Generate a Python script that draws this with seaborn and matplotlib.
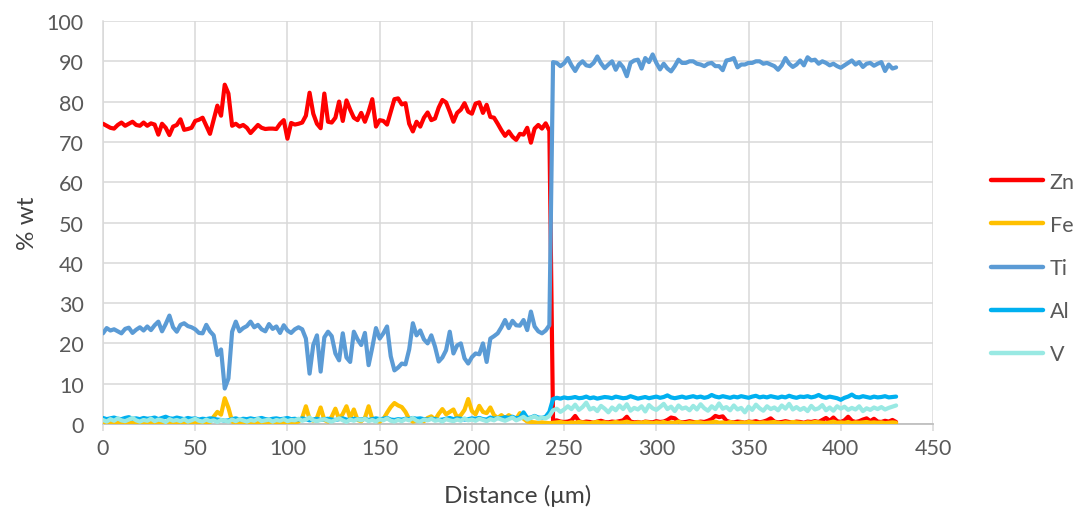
import numpy as np
import pandas as pd
import matplotlib
matplotlib.use("Agg")
import matplotlib.pyplot as plt
import seaborn as sns

# EDS line scan across the Zn / Ti-6Al-4V interface, sampled every 2 µm
distance = np.arange(0, 431, 2)

zn = [
    74.5, 74.0, 73.5, 73.3, 74.2, 74.8, 74.0, 74.5, 75.0, 74.2,
    74.0, 74.8, 74.0, 74.6, 74.3, 71.8, 74.5, 73.5, 71.7, 73.8,
    74.2, 75.6, 73.0, 73.2, 73.5, 75.2, 75.5, 76.0, 74.0, 72.0,
    75.5, 79.0, 76.5, 84.2, 82.0, 74.0, 74.5, 73.8, 74.2, 73.5,
    72.2, 73.2, 74.2, 73.5, 73.2, 73.3, 73.3, 73.2, 74.5, 75.4,
    70.8, 74.7, 74.3, 74.5, 74.8, 76.5, 82.2, 77.0, 74.5, 73.4,
    82.0, 75.0, 74.8, 76.0, 80.0, 75.2, 80.3, 78.0, 76.0, 75.4,
    77.2, 75.0, 77.5, 80.6, 73.8, 75.4, 75.2, 74.3, 77.5, 80.6,
    80.8, 79.3, 79.6, 74.5, 72.6, 75.0, 73.8, 76.0, 77.3, 75.4,
    75.8, 78.5, 80.4, 79.8, 77.5, 75.0, 77.2, 78.0, 79.6, 77.5,
    77.0, 79.5, 79.8, 77.2, 79.2, 76.2, 76.0, 74.5, 72.9, 71.5,
    72.6, 71.3, 70.5, 72.0, 71.8, 73.5, 69.8, 73.3, 74.2, 73.3,
    74.6, 72.8, 0.8, 0.9, 0.6, 0.5, 0.6, 0.9, 2.0, 0.7,
    0.4, 0.6, 0.5, 0.3, 0.6, 0.8, 0.5, 0.4, 0.6, 0.5,
    0.7, 0.9, 1.8, 0.6, 0.4, 0.5, 0.3, 0.6, 0.5, 0.4,
    0.7, 0.5, 0.6, 1.0, 1.6, 1.4, 0.6, 0.4, 0.5, 0.7,
    0.5, 0.4, 0.6, 0.5, 0.8, 1.2, 2.0, 1.7, 1.9, 0.8,
    0.5, 0.4, 0.6, 0.5, 0.3, 0.6, 0.5, 0.7, 0.4, 0.6,
    0.9, 1.4, 0.6, 0.4, 0.5, 0.7, 0.5, 0.4, 0.6, 0.5,
    0.3, 0.6, 0.5, 0.7, 0.5, 1.0, 1.5, 0.8, 1.6, 0.7,
    0.5, 0.9, 1.8, 0.8, 0.5, 0.7, 1.1, 1.4, 0.7, 1.3,
    0.6, 0.5, 0.8, 0.6, 1.0, 0.5,
]

fe = [
    0.3, 0.2, 0.4, 0.3, 0.5, 0.2, 0.3, 0.4, 0.2, 0.3,
    0.4, 0.3, 0.2, 0.5, 0.3, 0.2, 0.4, 0.3, 0.5, 0.2,
    0.3, 0.4, 0.2, 0.3, 0.5, 0.3, 0.2, 0.4, 0.3, 0.5,
    1.8, 3.0, 2.3, 6.4, 4.0, 0.6, 0.3, 0.4, 0.2, 0.3,
    0.4, 0.2, 0.3, 0.5, 0.3, 0.2, 0.4, 0.3, 0.5, 0.4,
    0.3, 0.5, 0.4, 0.6, 1.5, 4.4, 1.2, 0.8, 1.5, 4.1,
    1.0, 0.6, 1.8, 3.8, 1.2, 2.5, 4.4, 1.5, 3.6, 1.0,
    0.7, 1.5, 4.4, 1.2, 0.8, 0.6, 1.2, 2.8, 4.2, 5.2,
    4.6, 4.2, 3.0, 1.2, 0.6, 0.8, 1.0, 0.7, 1.5, 1.9,
    1.0, 2.5, 3.7, 2.4, 3.0, 3.6, 1.6, 2.2, 3.5, 6.2,
    3.2, 2.4, 4.5, 3.0, 2.7, 4.1, 2.2, 1.5, 2.2, 1.4,
    2.2, 1.6, 1.2, 2.7, 1.3, 0.6, 0.5, 0.4, 0.3, 0.4,
    0.3, 0.2, 0.3, 0.4, 0.5, 0.3, 0.2, 0.4, 0.3, 0.5,
    0.4, 0.3, 0.2, 0.4, 0.5, 0.3, 0.4, 0.2, 0.3, 0.5,
    0.3, 0.4, 0.6, 0.3, 0.2, 0.4, 0.3, 0.5, 0.4, 0.2,
    0.4, 0.3, 0.5, 0.2, 0.4, 0.3, 0.6, 0.3, 0.2, 0.4,
    0.3, 0.5, 0.4, 0.2, 0.3, 0.4, 0.6, 0.3, 0.4, 0.2,
    0.5, 0.3, 0.2, 0.4, 0.3, 0.5, 0.4, 0.2, 0.3, 0.4,
    0.3, 0.4, 0.5, 0.3, 0.2, 0.4, 0.3, 0.5, 0.4, 0.3,
    0.2, 0.4, 0.3, 0.5, 0.4, 0.3, 0.2, 0.4, 0.6, 0.3,
    0.4, 0.3, 0.5, 0.2, 0.4, 0.3, 0.4, 0.5, 0.3, 0.4,
    0.3, 0.4, 0.2, 0.3, 0.4, 0.3,
]

ti = [
    22.5, 23.8, 23.2, 23.5, 23.0, 22.5, 23.6, 23.9, 22.6, 23.4,
    24.0, 23.2, 24.2, 23.3, 24.5, 25.4, 23.0, 24.8, 26.9, 24.0,
    22.9, 24.6, 25.0, 24.3, 24.0, 23.5, 22.6, 22.5, 24.6, 23.0,
    22.0, 17.1, 18.5, 8.8, 11.3, 22.9, 25.4, 23.0, 23.8, 24.3,
    25.4, 24.0, 24.6, 23.5, 23.0, 24.8, 23.6, 24.2, 22.6, 24.5,
    23.2, 22.6, 23.5, 24.0, 23.5, 21.2, 12.5, 19.6, 22.0, 13.0,
    21.5, 22.9, 21.8, 17.5, 15.8, 22.5, 16.5, 15.4, 22.9, 21.0,
    19.6, 22.6, 14.6, 19.0, 23.8, 21.2, 22.5, 24.2, 16.8, 13.3,
    14.0, 15.0, 14.8, 18.5, 25.0, 22.0, 23.2, 21.0, 20.0, 22.0,
    19.2, 15.5, 16.5, 18.3, 22.9, 17.5, 19.5, 20.0, 16.3, 15.0,
    16.6, 17.5, 17.3, 20.0, 15.4, 21.2, 21.8, 22.5, 24.0, 25.8,
    23.8, 25.6, 24.5, 24.4, 25.8, 23.3, 27.9, 24.2, 23.0, 22.5,
    23.2, 24.5, 89.8, 89.6, 88.8, 89.5, 90.8, 89.0, 87.6, 89.2,
    90.0, 89.0, 88.8, 89.6, 91.2, 89.5, 88.3, 89.2, 90.0, 87.9,
    89.6, 88.5, 86.3, 89.6, 90.2, 90.4, 88.2, 90.8, 89.8, 91.7,
    89.6, 88.0, 89.4, 88.2, 87.5, 88.8, 90.4, 89.6, 89.6, 90.0,
    90.0, 89.4, 89.2, 88.8, 89.4, 89.6, 88.8, 88.8, 87.8, 90.2,
    90.4, 90.8, 88.5, 89.2, 89.2, 89.6, 89.6, 90.0, 90.0, 89.4,
    89.6, 89.2, 88.8, 87.9, 89.0, 90.8, 89.4, 88.6, 89.2, 90.2,
    89.0, 91.0, 90.2, 90.4, 89.4, 90.0, 89.6, 89.0, 89.4, 88.8,
    88.4, 89.0, 89.6, 90.2, 89.2, 89.8, 88.6, 89.4, 89.6, 88.9,
    89.4, 89.8, 87.6, 89.2, 88.2, 88.5,
]

al = [
    1.5, 1.2, 1.4, 1.6, 1.3, 1.2, 1.5, 1.7, 1.3, 1.4,
    1.2, 1.5, 1.3, 1.4, 1.6, 1.2, 1.5, 1.8, 1.4, 1.3,
    1.6, 1.4, 1.2, 1.5, 1.3, 1.4, 1.1, 1.3, 1.2, 1.4,
    1.3, 1.1, 1.0, 0.8, 0.9, 1.2, 1.4, 1.1, 1.3, 1.2,
    1.4, 1.2, 1.3, 1.5, 1.2, 1.1, 1.3, 1.4, 1.2, 1.3,
    1.5, 1.2, 1.3, 1.1, 1.4, 1.2, 0.9, 1.1, 1.3, 1.0,
    1.2, 1.3, 1.1, 1.0, 1.2, 1.4, 1.1, 1.0, 1.3, 1.2,
    1.1, 1.3, 1.0, 1.2, 1.4, 1.2, 1.3, 1.5, 1.1, 1.0,
    1.2, 1.1, 1.3, 1.2, 1.5, 1.3, 1.4, 1.2, 1.1, 1.3,
    1.2, 1.0, 1.1, 1.3, 1.5, 1.2, 1.4, 1.3, 1.1, 1.2,
    1.4, 1.3, 1.5, 1.2, 1.1, 1.6, 1.3, 1.5, 1.4, 1.7,
    1.5, 1.8, 1.4, 1.6, 2.9, 1.5, 1.6, 2.0, 1.6, 1.5,
    1.8, 3.0, 6.2, 6.5, 6.3, 6.6, 6.4, 6.5, 6.7, 6.4,
    6.5, 6.8, 6.4, 6.6, 6.3, 6.5, 6.7, 6.6, 6.4, 6.8,
    6.6, 6.4, 6.5, 6.9, 6.6, 6.3, 6.5, 6.7, 6.4, 6.6,
    6.8, 6.5, 6.7, 7.1, 6.6, 6.4, 6.6, 6.8, 6.5, 6.7,
    6.9, 6.6, 6.8, 6.5, 6.7, 7.2, 6.8, 6.6, 6.9, 6.7,
    6.5, 6.8, 6.6, 6.9, 6.7, 6.5, 6.8, 7.0, 6.6, 6.8,
    6.6, 6.9, 6.7, 6.5, 6.8, 6.6, 7.0, 6.7, 6.5, 6.8,
    6.7, 6.9, 6.6, 6.8, 7.2, 6.7, 6.5, 6.8, 6.6, 6.4,
    6.0, 6.5, 6.8, 7.3, 6.7, 6.6, 6.9, 6.7, 6.5, 6.8,
    6.6, 6.7, 6.9, 6.6, 6.7, 6.8,
]

v = [
    1.0, 0.6, 1.2, 0.8, 1.4, 0.9, 0.7, 1.1, 1.5, 0.9,
    0.6, 1.0, 0.8, 1.3, 0.7, 1.1, 0.9, 0.5, 1.2, 0.8,
    1.0, 0.7, 1.2, 0.6, 0.9, 1.3, 0.8, 0.6, 1.1, 0.7,
    0.9, 0.5, 1.0, 0.8, 0.6, 1.1, 0.7, 1.2, 0.9, 0.6,
    1.0, 0.8, 1.3, 0.7, 0.9, 1.1, 0.6, 1.0, 0.8, 1.2,
    0.7, 1.0, 0.9, 1.3, 0.8, 1.1, 1.6, 0.9, 0.7, 1.0,
    1.2, 0.8, 0.6, 1.0, 1.4, 0.9, 0.5, 1.1, 0.8, 1.2,
    0.9, 1.3, 0.7, 1.0, 0.6, 1.2, 0.9, 1.4, 0.8, 0.6,
    1.0, 0.7, 1.2, 0.9, 1.5, 0.8, 0.6, 1.1, 0.9, 1.3,
    0.8, 1.0, 0.6, 1.2, 0.9, 0.7, 1.1, 0.8, 1.4, 0.9,
    1.1, 0.8, 1.3, 1.0, 0.7, 1.2, 0.9, 1.5, 1.1, 0.8,
    1.2, 1.6, 0.9, 1.3, 1.8, 1.1, 1.5, 1.9, 1.3, 1.6,
    1.4, 2.0, 3.4, 3.8, 3.0, 3.6, 4.4, 3.7, 4.8, 3.5,
    4.2, 5.3, 3.6, 4.0, 3.2, 4.5, 3.8, 2.9, 4.1, 3.4,
    4.6, 3.7, 4.9, 3.3, 4.0, 3.6, 4.4, 3.1, 4.7, 3.9,
    3.5, 4.2, 5.0, 3.7, 4.3, 3.2, 4.6, 3.8, 4.1, 3.4,
    4.5, 3.6, 4.9, 3.9, 3.3, 4.4, 3.7, 5.1, 3.8, 4.2,
    3.4, 4.6, 3.6, 4.0, 2.9, 4.3, 3.5, 4.8, 3.9, 3.3,
    4.4, 3.7, 4.1, 3.4, 4.6, 3.8, 5.0, 3.6, 4.2, 3.5,
    4.0, 3.2, 4.5, 3.6, 3.9, 4.7, 3.4, 4.1, 3.3, 4.4,
    3.8, 4.3, 3.5, 4.0, 3.6, 4.4, 3.2, 3.9, 3.5, 4.1,
    3.7, 4.2, 3.6, 4.0, 4.3, 4.6,
]

elements = ["Zn", "Fe", "Ti", "Al", "V"]
colors = ["#FF0000", "#FFC000", "#5B9BD5", "#00B0F0", "#99E9E3"]

frames = []
for name, vals in zip(elements, [zn, fe, ti, al, v]):
    frames.append(pd.DataFrame({"Distance": distance, "wt": vals, "Element": name}))
df = pd.concat(frames, ignore_index=True)

sns.set_style("white")
plt.rcParams["font.family"] = ["Lato", "DejaVu Sans"]

fig = plt.figure(figsize=(10.75, 5.1), dpi=100)
ax = fig.add_axes([103 / 1075, 1 - 425 / 510, 830 / 1075, 403 / 510])

sns.lineplot(
    data=df, x="Distance", y="wt", hue="Element", hue_order=elements,
    palette=dict(zip(elements, colors)), linewidth=3.0, estimator=None,
    sort=False, ax=ax, legend=False, zorder=3,
)
for line in ax.get_lines():
    line.set_solid_joinstyle("round")
    line.set_solid_capstyle("round")

ax.set_xlim(0, 450)
ax.set_ylim(0, 100)
ax.set_xticks(np.arange(0, 451, 50))
ax.set_yticks(np.arange(0, 101, 10))
ax.grid(True, color="#D9D9D9", linewidth=1.1)
ax.set_axisbelow(True)

for side in ["top", "right"]:
    ax.spines[side].set_visible(False)
ax.spines["left"].set_color("#D9D9D9")
ax.spines["left"].set_linewidth(1.1)
ax.spines["bottom"].set_color("#BFBFBF")
ax.spines["bottom"].set_linewidth(1.3)
ax.spines["bottom"].set_zorder(2)

ax.tick_params(axis="x", length=5, width=1.1, color="#D9D9D9", pad=5,
               labelsize=15.5, labelcolor="#595959", direction="out", bottom=True)
ax.tick_params(axis="y", length=0, pad=14, labelsize=15.5, labelcolor="#595959", left=True)

ax.set_xlabel("Distance (μm)", fontsize=17.5, color="#404040", labelpad=19)
ax.set_ylabel("% wt", fontsize=17.5, color="#404040", labelpad=6)

handles = [plt.Line2D([], [], color=c, linewidth=3.2, solid_capstyle="round") for c in colors]
leg = ax.legend(handles, elements, loc="center left", bbox_to_anchor=(1.06, 0.387),
                frameon=False, handlelength=2.4, handletextpad=0.3,
                labelspacing=1.07, fontsize=15.5, borderaxespad=0)
for t in leg.get_texts():
    t.set_color("#595959")

fig.savefig("out.png", dpi=100)
